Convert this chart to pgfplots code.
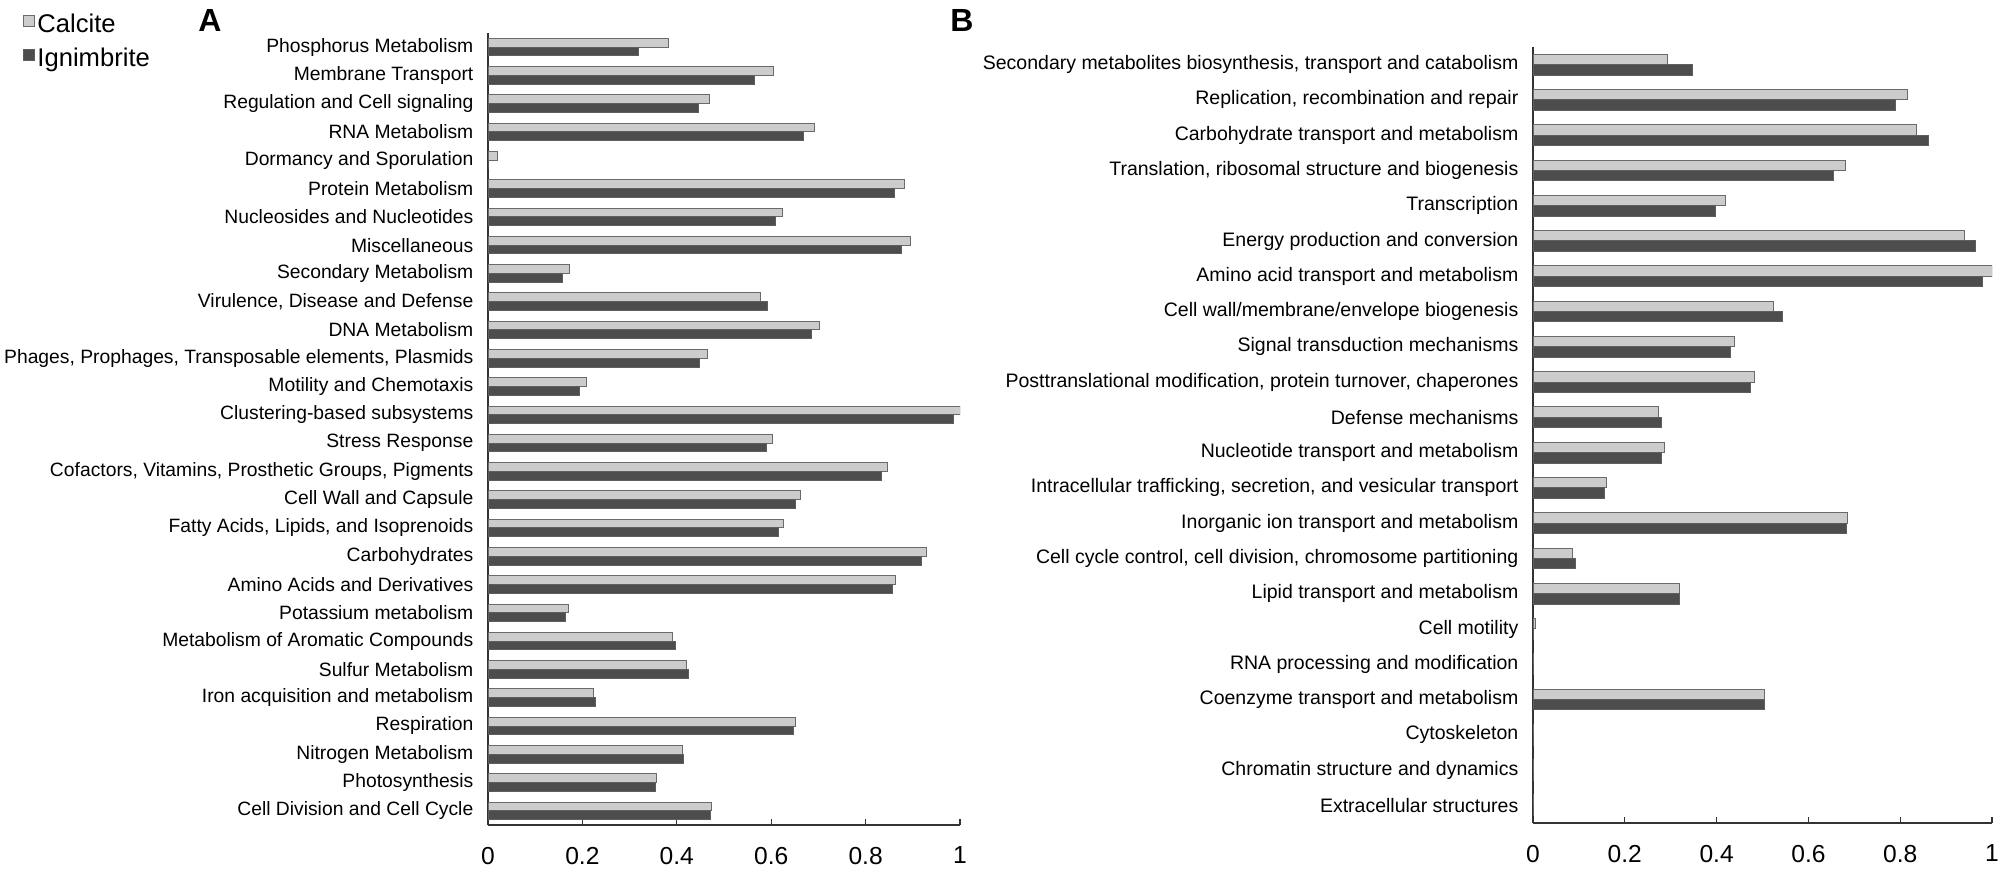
\documentclass[border=0pt]{standalone}
\usepackage{fontspec}
\setmainfont{Liberation Sans}
\usepackage{pgfplots}
\pgfplotsset{compat=1.18}

\definecolor{calc}{HTML}{CCCCCC}
\definecolor{calcedge}{HTML}{6A6A6A}
\definecolor{ign}{HTML}{4D4D4D}
\definecolor{ignedge}{HTML}{5E5E5E}

\pgfplotsset{
  panel/.style={
    scale only axis,
    xbar,
    xmin=0, xmax=1,
    enlargelimits=false,
    axis x line*=bottom,
    axis y line*=left,
    axis line style={black!80, line width=0.75pt},
    xtick={0,0.2,0.4,0.6,0.8,1},
    tick align=inside,
    major tick length=3pt,
    xtick style={black!80, line width=0.6pt},
    ytick style={draw=none},
    /pgf/number format/assume math mode=true,
    xticklabel style={font=\fontsize{12.3}{14}\selectfont, yshift=-7.5pt},
    yticklabel style={font=\fontsize{9.75}{11}\selectfont, xshift=-3.8pt},
  },
  calcite/.style={fill=calc, draw=calcedge, line width=0.5pt},
  ignim/.style={fill=ign, draw=ignedge, line width=0.5pt},
}

\begin{document}
\begin{tikzpicture}
\path[use as bounding box] (0,0) rectangle (1000pt,436pt);

% panel A: SEED subsystems
\begin{axis}[panel,
  at={(244pt,23.5pt)}, anchor=south west,
  width=236pt, height=396pt,
  bar width=4.4pt,
  ymin=-0.5, ymax=27.5,
  ytick={0,...,27},
  yticklabel style={font=\fontsize{9.65}{11}\selectfont},
  yticklabels={
    Cell Division and Cell Cycle,
    Photosynthesis,
    Nitrogen Metabolism,
    Respiration,
    Iron acquisition and metabolism,
    Sulfur Metabolism,
    Metabolism of Aromatic Compounds,
    Potassium metabolism,
    Amino Acids and Derivatives,
    Carbohydrates,
    {Fatty Acids, Lipids, and Isoprenoids},
    Cell Wall and Capsule,
    {Cofactors, Vitamins, Prosthetic Groups, Pigments},
    Stress Response,
    Clustering-based subsystems,
    Motility and Chemotaxis,
    {Phages, Prophages, Transposable elements, Plasmids},
    DNA Metabolism,
    {Virulence, Disease and Defense},
    Secondary Metabolism,
    Miscellaneous,
    Nucleosides and Nucleotides,
    Protein Metabolism,
    Dormancy and Sporulation,
    RNA Metabolism,
    Regulation and Cell signaling,
    Membrane Transport,
    Phosphorus Metabolism},
  legend style={at={(-0.985,1.027)}, anchor=north west, draw=none, fill=none,
    inner sep=0pt, row sep=4pt,
    font=\fontsize{12.8}{15}\selectfont,
    nodes={inner sep=1pt}},
  legend cell align=left,
  legend image code/.code={\draw[#1] (0pt,-1pt) rectangle (5.5pt,4.5pt);},
]
\addplot[calcite, bar shift=2.2pt] coordinates {
  (0.474,0) (0.357,1) (0.413,2) (0.651,3) (0.223,4) (0.420,5) (0.391,6)
  (0.171,7) (0.864,8) (0.928,9) (0.626,10) (0.662,11) (0.846,12) (0.602,13)
  (1.000,14) (0.209,15) (0.464,16) (0.703,17) (0.577,18) (0.173,19) (0.895,20)
  (0.624,21) (0.882,22) (0.021,23) (0.692,24) (0.470,25) (0.604,26) (0.382,27)
};
\addlegendentry{Calcite}
\addplot[ignim, bar shift=-2.2pt] coordinates {
  (0.472,0) (0.355,1) (0.415,2) (0.647,3) (0.227,4) (0.425,5) (0.398,6)
  (0.164,7) (0.856,8) (0.919,9) (0.616,10) (0.652,11) (0.833,12) (0.590,13)
  (0.987,14) (0.193,15) (0.448,16) (0.686,17) (0.592,18) (0.157,19) (0.876,20)
  (0.609,21) (0.862,22) (0.000,23) (0.669,24) (0.446,25) (0.565,26) (0.318,27)
};
\addlegendentry{Ignimbrite}
\end{axis}

% panel B: COG categories
\begin{axis}[panel,
  at={(766.5pt,24.5pt)}, anchor=south west,
  width=229.5pt, height=388pt,
  bar width=5.2pt,
  ymin=-0.5, ymax=21.5,
  ytick={0,...,21},
  yticklabels={
    Extracellular structures,
    Chromatin structure and dynamics,
    Cytoskeleton,
    Coenzyme transport and metabolism,
    RNA processing and modification,
    Cell motility,
    Lipid transport and metabolism,
    {Cell cycle control, cell division, chromosome partitioning},
    Inorganic ion transport and metabolism,
    {Intracellular trafficking, secretion, and vesicular transport},
    Nucleotide transport and metabolism,
    Defense mechanisms,
    {Posttranslational modification, protein turnover, chaperones},
    Signal transduction mechanisms,
    Cell wall/membrane/envelope biogenesis,
    Amino acid transport and metabolism,
    Energy production and conversion,
    Transcription,
    {Translation, ribosomal structure and biogenesis},
    Carbohydrate transport and metabolism,
    {Replication, recombination and repair},
    {Secondary metabolites biosynthesis, transport and catabolism}},
]
\addplot[calcite, bar shift=2.6pt] coordinates {
  (0.001,0) (0.001,1) (0.001,2) (0.505,3) (0.001,4) (0.006,5) (0.320,6)
  (0.086,7) (0.686,8) (0.159,9) (0.287,10) (0.273,11) (0.482,12) (0.440,13)
  (0.524,14) (1.000,15) (0.940,16) (0.420,17) (0.680,18) (0.836,19) (0.816,20)
  (0.292,21)
};
\addplot[ignim, bar shift=-2.6pt] coordinates {
  (0.002,0) (0.002,1) (0.002,2) (0.505,3) (0.002,4) (0.002,5) (0.320,6)
  (0.092,7) (0.683,8) (0.155,9) (0.280,10) (0.280,11) (0.473,12) (0.431,13)
  (0.543,14) (0.980,15) (0.964,16) (0.397,17) (0.654,18) (0.862,19) (0.790,20)
  (0.348,21)
};
\end{axis}

\node[font=\bfseries\fontsize{16}{16}\selectfont] at (105pt,425.5pt) {A};
\node[font=\bfseries\fontsize{16}{16}\selectfont] at (481pt,425.5pt) {B};
\end{tikzpicture}
\end{document}
